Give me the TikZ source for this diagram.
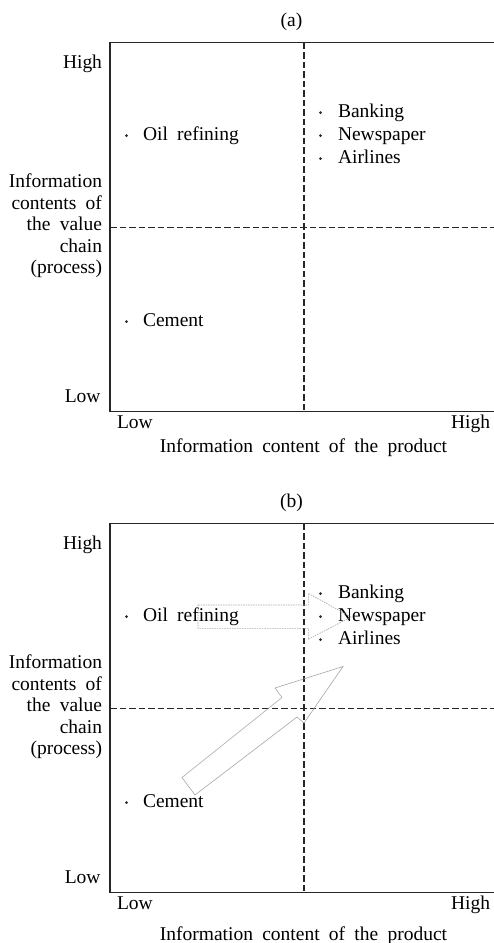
\documentclass[tikz,border=0pt]{standalone}
\usepackage{fontspec}
\setmainfont{Liberation Serif}[WordSpace=1.9]
\begin{document}
\begin{tikzpicture}[x=1pt,y=-1pt,
  lbl/.style={inner sep=0pt, outer sep=0pt, anchor=base,
    font=\fontsize{19.5}{21.5}\selectfont},
  lblr/.style={lbl, anchor=base east},
  lbll/.style={lbl, anchor=base west},
  dotmark/.style={circle, fill=black!85, inner sep=0pt, minimum size=3pt},
  frame/.style={line width=1.4pt, draw=black!85},
  midline/.style={line width=1.4pt, draw=black!85, dash pattern=on 6.5pt off 3pt},
  shiftarrow/.style={draw=black!35, line width=0.6pt, line join=miter},
  shiftarrowdot/.style={shiftarrow, dash pattern=on 1.5pt off 1pt}]
\useasboundingbox (0,0) rectangle (494,943);

% the two product/process matrices, stacked
\foreach \p/\dy/\ty in {a/0/452, b/481/459}{
  \begin{scope}[yshift=-\dy pt]
    \node[lbl] (\p-title) at (291.5,26.5) {(\p)};
    % frame and quadrant split
    \draw[frame] (494,42.7) -- (110,42.7) -- (110,411.7) -- (494,411.7);
    \draw[midline] (304,42.7) -- (304,411.7);
    \draw[midline] (110,227.7) -- (494,227.7);
    % vertical axis
    \node[lblr] (\p-yhigh) at (102,68) {High};
    \node[lblr] (\p-ylow) at (100.5,402) {Low};
    \node[lbl, anchor=base east, align=right] (\p-ytitle) at (102,273.5)
      {Information\\contents of\\the value\\chain\\(process)};
    % horizontal axis
    \node[lbll] (\p-xlow) at (117,428.3) {Low};
    \node[lblr] (\p-xhigh) at (490,428.3) {High};
    \node[lbl] (\p-xtitle) at (303.5,\ty) {Information content of the product};
    % industries
    \node[dotmark] (\p-d1) at (126.5,135.5) {};
    \node[lbll] (\p-oil) at (143,140) {Oil refining};
    \node[dotmark] (\p-d2) at (320.5,112.5) {};
    \node[lbll] (\p-bank) at (338,117) {Banking};
    \node[dotmark] (\p-d3) at (320.5,135.5) {};
    \node[lbll] (\p-news) at (338,140) {Newspaper};
    \node[dotmark] (\p-d4) at (320.5,158.5) {};
    \node[lbll] (\p-air) at (338,163) {Airlines};
    \node[dotmark] (\p-d5) at (126.5,321.5) {};
    \node[lbll] (\p-cem) at (143,326) {Cement};
  \end{scope}
}

% movement of industries towards the information-intensive quadrant
\draw[shiftarrowdot] (198,605) -- (308.3,605) -- (308.3,593.3) -- (351,617)
  -- (308.3,639.3) -- (308.3,628.3) -- (198,628.3) -- cycle;
\draw[shiftarrow] (182,777.5) -- (282,697.5) -- (275,688) -- (343,666.5)
  -- (304,723) -- (297,717) -- (195,795) -- cycle;
\end{tikzpicture}
\end{document}
